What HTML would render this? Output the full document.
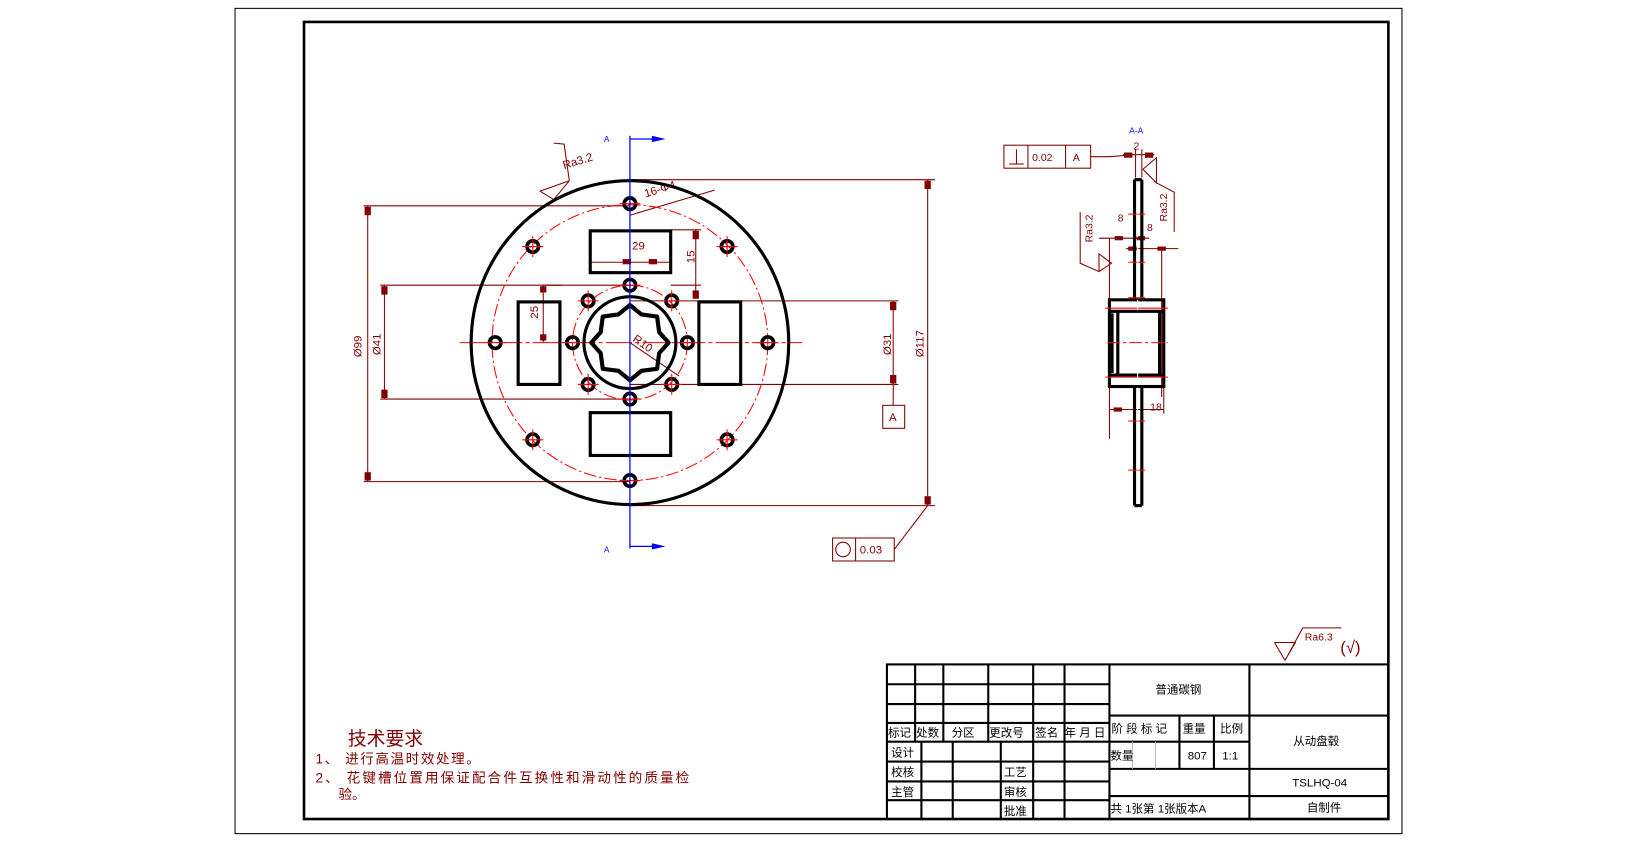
<!DOCTYPE html>
<html><head><meta charset="utf-8"><style>
html,body{margin:0;padding:0;background:#fff;}
svg{display:block;}
text{font-family:"Liberation Sans","Noto Sans CJK SC",sans-serif;}
</style></head><body>
<svg width="1637" height="842" viewBox="0 0 1567 806" preserveAspectRatio="none" xmlns="http://www.w3.org/2000/svg">
<rect x="0" y="0" width="1567" height="806" fill="#fff"/>
<!-- frames -->
<rect x="225" y="8" width="1117" height="790" fill="none" stroke="#000" stroke-width="1"/>
<rect x="291" y="21" width="1038" height="763" fill="none" stroke="#000" stroke-width="2.5"/>

<!-- ===== front view ===== -->
<g fill="none">
<g stroke="#800000" stroke-width="1">
 <line x1="603" y1="172" x2="895" y2="172"/><line x1="603" y1="484" x2="895" y2="484"/>
 <line x1="888" y1="172" x2="888" y2="484"/>
 <line x1="348" y1="197" x2="603" y2="197"/><line x1="348" y1="461" x2="603" y2="461"/>
 <line x1="352" y1="197" x2="352" y2="461"/>
 <line x1="364" y1="273" x2="603" y2="273"/><line x1="364" y1="382" x2="603" y2="382"/>
 <line x1="368" y1="273" x2="368" y2="382"/>
 <line x1="603" y1="288" x2="860" y2="288"/><line x1="603" y1="368" x2="860" y2="368"/>
 <line x1="855" y1="288" x2="855" y2="388"/>
 <rect x="845" y="388" width="21" height="22"/>
 <line x1="565" y1="251" x2="642" y2="251"/>
 <line x1="642" y1="220" x2="671" y2="220"/><line x1="642" y1="273" x2="671" y2="273"/>
 <line x1="666" y1="220" x2="666" y2="285"/>
 <line x1="538" y1="273" x2="520" y2="273"/>
 <line x1="520" y1="273" x2="520" y2="328"/>
 <line x1="603" y1="206" x2="684" y2="182"/>
 <line x1="603" y1="328" x2="650" y2="360"/>
 <rect x="797" y="515" width="59" height="22"/><line x1="819" y1="515" x2="819" y2="537"/>
 <line x1="856" y1="526" x2="888" y2="484"/>
 <polyline points="530,137 540,138 545,173 517,183 530,191 545,173"/>
</g>
<g fill="#800000">
 <rect x="885" y="173" width="6" height="8"/><rect x="885" y="475" width="6" height="8"/>
 <rect x="349" y="198" width="6" height="8"/><rect x="349" y="452" width="6" height="8"/>
 <rect x="365" y="274" width="6" height="8"/><rect x="365" y="373" width="6" height="8"/>
 <rect x="852" y="289" width="6" height="8"/><rect x="852" y="359" width="6" height="8"/>
 <rect x="596" y="248" width="8" height="5"/><rect x="621" y="248" width="8" height="5"/>
 <rect x="663" y="221" width="6" height="8"/><rect x="663" y="278" width="6" height="8"/>
 <rect x="517" y="274" width="6" height="6"/><rect x="517" y="320" width="6" height="6"/>
</g>
<g fill="#800000" font-size="11">
 <text x="605" y="239">29</text>
 <text transform="translate(665,252) rotate(-90)">15</text>
 <text transform="translate(515,305) rotate(-90)">25</text>
 <text transform="translate(346,342) rotate(-90)">Ø99</text>
 <text transform="translate(364,340) rotate(-90)">Ø41</text>
 <text transform="translate(853,340) rotate(-90)">Ø31</text>
 <text transform="translate(884,342) rotate(-90)">Ø117</text>
 <text x="851" y="403">A</text>
 <text x="823" y="530">0.03</text>
 <text transform="translate(618,189) rotate(-17)">16-Φ4</text>
 <text transform="translate(605,326) rotate(35)">R10</text>
 <text transform="translate(540,162) rotate(-17)">Ra3.2</text>
</g>
<circle cx="807" cy="526" r="7" stroke="#800000" stroke-width="1"/>

<g stroke="#ff0000" stroke-width="1">
 <circle cx="603" cy="328" r="132" stroke-dasharray="12,3,2,3"/>
 <circle cx="603" cy="328" r="55" stroke-dasharray="12,3,2,3"/>
 <line x1="440" y1="328" x2="768" y2="328" stroke-dasharray="25,3,4,3"/>
</g>
<ellipse cx="603" cy="328" rx="152" ry="155" stroke="#000" stroke-width="3"/>
<g stroke="#000" stroke-width="3">
 <rect x="565" y="221" width="77" height="40"/>
 <rect x="565" y="395" width="77" height="41"/>
 <rect x="496" y="289" width="40" height="79"/>
 <rect x="669" y="289" width="40" height="79"/>
 <circle cx="603" cy="328" r="44"/>
 <polygon points="640,328 631,338 629,353 614,355 603,364 592,355 577,353 575,338 566,328 575,318 577,303 592,301 603,292 614,301 629,303 631,318" stroke-width="4" stroke-linejoin="round"/>
</g>
<g stroke="#000" stroke-width="3.5">
 <circle cx="603" cy="195" r="5.5"/><circle cx="603" cy="460" r="5.5"/>
 <circle cx="474" cy="328" r="5.5"/><circle cx="735" cy="328" r="5.5"/>
 <circle cx="510" cy="236" r="5.5"/><circle cx="696" cy="236" r="5.5"/>
 <circle cx="510" cy="421" r="5.5"/><circle cx="696" cy="421" r="5.5"/>
 <circle cx="603" cy="273" r="5.5"/><circle cx="603" cy="382" r="5.5"/>
 <circle cx="548" cy="328" r="5.5"/><circle cx="658" cy="328" r="5.5"/>
 <circle cx="563" cy="288" r="5.5"/><circle cx="643" cy="288" r="5.5"/>
 <circle cx="563" cy="368" r="5.5"/><circle cx="643" cy="368" r="5.5"/>
</g>
<g stroke="#ff0000" stroke-width="1">
 <path d="M500 236h20M510 226v20M686 236h20M696 226v20M500 421h20M510 411v20M686 421h20M696 411v20M553 288h20M563 278v20M633 288h20M643 278v20M553 368h20M563 358v20M633 368h20M643 358v20M603 263v20M593 273h20M603 372v20M593 382h20M538 328h20M648 328h20M464 328h20M725 328h20M593 195h20M593 460h20"/>
</g>
<g stroke="#0000ff" stroke-width="1.2">
 <line x1="603" y1="130" x2="603" y2="525"/>
 <line x1="603" y1="133" x2="632" y2="133"/>
 <line x1="603" y1="523" x2="632" y2="523"/>
</g>
<polygon points="624,130 637,133 624,136" fill="#0000ff"/>
<polygon points="624,520 637,523 624,526" fill="#0000ff"/>
<text x="578" y="136" font-size="8" fill="#0000ff">A</text>
<text x="578" y="529" font-size="8" fill="#0000ff">A</text>
</g>

<!-- ===== side view ===== -->
<g fill="none">
<g stroke="#800000" stroke-width="1">
 <rect x="961" y="139" width="83" height="22"/>
 <line x1="984" y1="139" x2="984" y2="161"/><line x1="1020" y1="139" x2="1020" y2="161"/>
 <line x1="966" y1="157" x2="980" y2="157"/><line x1="973" y1="143" x2="973" y2="157"/>
 <line x1="1044" y1="150" x2="1062" y2="150"/><line x1="1062" y1="150" x2="1087" y2="148"/>
 <line x1="1075" y1="148" x2="1105" y2="148"/>
 <line x1="1087" y1="143" x2="1087" y2="170"/><line x1="1093" y1="143" x2="1093" y2="170"/>
 <polyline points="1094,162 1107,151 1107,175 1094,162"/>
 <polyline points="1107,175 1124,184 1124,222"/>
 <polyline points="1034,203 1034,252 1052,260 1052,243 1064,252 1052,260"/>
 <line x1="1052" y1="228" x2="1100" y2="228"/>
 <line x1="1062" y1="228" x2="1062" y2="420"/>
 <line x1="1078" y1="238" x2="1128" y2="238"/>
 <line x1="1112" y1="238" x2="1112" y2="380"/>
 <line x1="1062" y1="392" x2="1114" y2="392"/>
 <line x1="1114" y1="370" x2="1114" y2="396"/>
</g>
<g fill="#800000">
 <rect x="1076" y="146" width="8" height="5"/><rect x="1096" y="146" width="8" height="5"/>
 <rect x="1067" y="226" width="8" height="4"/><rect x="1088" y="226" width="8" height="4"/>
 <rect x="1080" y="236" width="8" height="4"/><rect x="1108" y="236" width="8" height="4"/>
 <rect x="1066" y="390" width="8" height="4"/>
</g>
<g font-size="10" fill="#800000">
 <text x="988" y="154">0.02</text><text x="1027" y="154">A</text>
 <text x="1085" y="143">2</text>
 <text x="1070" y="212">8</text><text x="1098" y="221">8</text>
 <text x="1101" y="393">18</text>
 <text transform="translate(1046,232) rotate(-90)">Ra3.2</text>
 <text transform="translate(1117,212) rotate(-90)">Ra3.2</text>
</g>
<text x="1081" y="128" font-size="8" fill="#0000ff">A-A</text>
<g stroke="#000" stroke-width="3">
 <line x1="1086" y1="172" x2="1086" y2="287"/><line x1="1093" y1="172" x2="1093" y2="287"/>
 <line x1="1086" y1="370" x2="1086" y2="484"/><line x1="1093" y1="370" x2="1093" y2="484"/>
 <line x1="1086" y1="172" x2="1093" y2="172"/><line x1="1086" y1="484" x2="1093" y2="484"/>
 <rect x="1062" y="287" width="52" height="83"/>
 <line x1="1062" y1="298" x2="1114" y2="298"/><line x1="1062" y1="359" x2="1114" y2="359"/>
 <line x1="1070" y1="298" x2="1070" y2="359"/><line x1="1110" y1="298" x2="1110" y2="359"/>
 <line x1="1064" y1="300" x2="1064" y2="357" stroke-width="4"/>
</g>
<g stroke="#ff0000" stroke-width="1">
 <line x1="1058" y1="295" x2="1118" y2="295"/><line x1="1058" y1="361" x2="1118" y2="361"/>
 <line x1="1060" y1="328" x2="1118" y2="328" stroke-dasharray="12,3,3,3"/>
 <path d="M1080 205h16M1080 251h16M1080 285h16M1080 403h16M1080 450h16"/>
</g>
<line x1="1089" y1="175" x2="1089" y2="480" stroke="#ffffff" stroke-width="1" stroke-dasharray="10,4"/>
</g>

<!-- Ra6.3 -->
<g stroke="#800000" stroke-width="1" fill="none">
 <polyline points="1220,615 1240,615 1230,632 1220,615"/>
 <polyline points="1233,627 1247,601 1284,601"/>
</g>
<text x="1249" y="613" font-size="10" fill="#800000">Ra6.3</text>
<text x="1283" y="625" font-size="16" fill="#800000">(√)</text>

<!-- tech requirements -->
<g fill="#800000">
 <text x="333" y="713" font-size="18">技术要求</text>
 <text x="302" y="731" font-size="13" letter-spacing="1.5">1、 进行高温时效处理。</text>
 <text x="302" y="749" font-size="13" letter-spacing="2">2、 花键槽位置用保证配合件互换性和滑动性的质量检</text>
 <text x="324" y="765" font-size="13">验。</text>
</g>

<!-- title block -->
<g stroke="#000" stroke-width="2" fill="none">
 <rect x="849" y="636" width="480" height="148"/>
 <line x1="1062" y1="636" x2="1062" y2="784"/>
 <line x1="1196" y1="636" x2="1196" y2="784"/>
 <line x1="849" y1="655" x2="1062" y2="655"/>
 <line x1="849" y1="674" x2="1062" y2="674"/>
 <line x1="849" y1="692" x2="1062" y2="692"/>
 <line x1="849" y1="710" x2="1062" y2="710"/>
 <line x1="849" y1="729" x2="1062" y2="729"/>
 <line x1="849" y1="748" x2="1062" y2="748"/>
 <line x1="849" y1="766" x2="1062" y2="766"/>
 <line x1="876" y1="636" x2="876" y2="710"/>
 <line x1="903" y1="636" x2="903" y2="710"/>
 <line x1="946" y1="636" x2="946" y2="710"/>
 <line x1="989" y1="636" x2="989" y2="784"/>
 <line x1="1019" y1="636" x2="1019" y2="784"/>
 <line x1="882" y1="710" x2="882" y2="784"/>
 <line x1="912" y1="710" x2="912" y2="784"/>
 <line x1="958" y1="710" x2="958" y2="784"/>
 <line x1="1062" y1="685" x2="1329" y2="685"/>
 <line x1="1062" y1="710" x2="1196" y2="710"/>
 <line x1="1062" y1="736" x2="1329" y2="736"/>
 <line x1="1062" y1="762" x2="1329" y2="762"/>
 <line x1="1129" y1="685" x2="1129" y2="736"/>
 <line x1="1162" y1="685" x2="1162" y2="736"/>
</g>
<g stroke="#bbb" stroke-width="1"><line x1="1084" y1="710" x2="1084" y2="736"/><line x1="1106" y1="710" x2="1106" y2="736"/></g>
<g font-size="11" fill="#000">
 <text x="850" y="705">标记</text><text x="877" y="705">处数</text><text x="911" y="705">分区</text>
 <text x="947" y="705">更改号</text><text x="991" y="705">签名</text><text x="1019" y="705">年 月 日</text>
 <text x="853" y="724">设计</text><text x="853" y="743">校核</text><text x="853" y="762">主管</text>
 <text x="961" y="743">工艺</text><text x="961" y="762">审核</text><text x="961" y="780">批准</text>
 <text x="1106" y="664">普通碳钢</text>
 <text x="1064" y="701">阶 段 标 记</text><text x="1132" y="701">重量</text><text x="1168" y="701">比例</text>
 <text x="1063" y="727">数量</text><text x="1137" y="727">807</text><text x="1170" y="727">1:1</text>
 <text x="1238" y="713">从动盘毂</text>
 <text x="1237" y="753">TSLHQ-04</text>
 <text x="1251" y="777">自制件</text>
 <text x="1063" y="778">共 1张第 1张版本A</text>
</g>
</svg>
</body></html>
